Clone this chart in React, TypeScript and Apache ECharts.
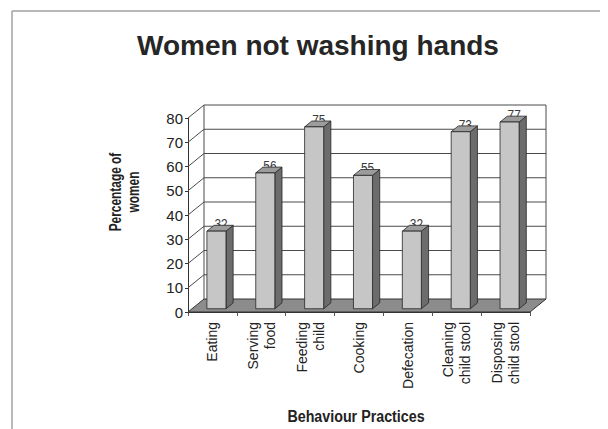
import React, { useEffect, useRef } from "react";
import * as echarts from "echarts";

const categories = [
  "Eating",
  "Serving\nfood",
  "Feeding\nchild",
  "Cooking",
  "Defecation",
  "Cleaning\nchild stool",
  "Disposing\nchild stool",
];
const values = [32, 56, 75, 55, 32, 73, 77];
const yMin = 0;
const yMax = 80;
const yStep = 10;
const titleText = "Women not washing hands";
const yName = "Percentage of\nwomen";
const xName = "Behaviour Practices";

const FONT = "'Liberation Sans', Arial, Helvetica, sans-serif";
const DX = 16;
const DY = -13;

export default function App() {
  const ref = useRef<HTMLDivElement>(null);
  useEffect(() => {
    if (!ref.current) return;
    const chart = echarts.init(ref.current, null, { renderer: "svg" });
    const tickVals: number[] = [];
    for (let v = yMin; v <= yMax; v += yStep) tickVals.push(v);

    const option: any = {
      animation: false,
      backgroundColor: "#ffffff",
      title: {
        text: titleText,
        left: 132,
        top: 26,
        textStyle: { fontFamily: FONT, fontSize: 28, fontWeight: "bold", color: "#262626" },
      },
      graphic: [
        { type: "line", shape: { x1: 12, y1: 11, x2: 600, y2: 11 }, style: { stroke: "#a0a0a0", lineWidth: 1.5 } },
        { type: "line", shape: { x1: 12, y1: 11, x2: 12, y2: 429 }, style: { stroke: "#a0a0a0", lineWidth: 1.5 } },
        {
          type: "text",
          x: 124,
          y: 192,
          rotation: Math.PI / 2,
          scaleX: 0.7,
          style: {
            text: yName,
            fontFamily: FONT,
            fontSize: 17,
            fontWeight: "bold",
            fill: "#222",
            align: "center",
            verticalAlign: "middle",
            lineHeight: 18,
          },
        },
        {
          type: "text",
          x: 356,
          y: 416,
          scaleX: 0.84,
          style: {
            text: xName,
            fontFamily: FONT,
            fontSize: 17,
            fontWeight: "bold",
            fill: "#222",
            align: "center",
            verticalAlign: "middle",
          },
        },
      ],
      grid: { left: 188, right: 78, top: 118, bottom: 117 },
      xAxis: {
        type: "category",
        data: categories,
        axisLine: { show: true, lineStyle: { color: "#333", width: 1 } },
        axisTick: { show: true, length: 4, lineStyle: { color: "#555" } },
        axisLabel: {
          rotate: 90,
          margin: 10,
          fontFamily: FONT,
          fontSize: 14,
          lineHeight: 17,
          color: "#222",
        },
        splitLine: { show: false },
      },
      yAxis: {
        type: "value",
        min: yMin,
        max: yMax,
        interval: yStep,
        axisLine: { show: true, lineStyle: { color: "#333", width: 1 } },
        axisTick: { show: true, length: 3, lineStyle: { color: "#333" } },
        axisLabel: { margin: 5, fontFamily: FONT, fontSize: 15, color: "#222" },
        splitLine: { show: false },
      },
      series: [
        {
          type: "custom",
          z: 1,
          data: [[0, 0]],
          renderItem: (params: any, api: any) => {
            const cs = params.coordSys;
            const x0 = cs.x;
            const x1 = cs.x + cs.width;
            const yf = (v: number) => api.coord([0, v])[1];
            const children: any[] = [];
            const y0 = yf(yMin);
            children.push({
              type: "polygon",
              shape: { points: [[x0, y0], [x1, y0], [x1 + DX, y0 + DY], [x0 + DX, y0 + DY]] },
              style: { fill: "#8c8c8c", stroke: "#333", lineWidth: 1 },
            });
            tickVals.forEach((v) => {
              const y = yf(v);
              if (v > yMin) {
                children.push({
                  type: "line",
                  shape: { x1: x0 + DX, y1: y + DY, x2: x1 + DX, y2: y + DY },
                  style: { stroke: "#4a4a4a", lineWidth: 1 },
                });
                children.push({
                  type: "line",
                  shape: { x1: x0, y1: y, x2: x0 + DX, y2: y + DY },
                  style: { stroke: "#4a4a4a", lineWidth: 1 },
                });
              }
            });
            const yt = yf(yMax);
            children.push({
              type: "line",
              shape: { x1: x0 + DX, y1: yt + DY, x2: x0 + DX, y2: y0 + DY },
              style: { stroke: "#4a4a4a", lineWidth: 1 },
            });
            children.push({
              type: "line",
              shape: { x1: x1 + DX, y1: yt + DY, x2: x1 + DX, y2: y0 + DY },
              style: { stroke: "#4a4a4a", lineWidth: 1 },
            });
            return { type: "group", children };
          },
        },
        {
          type: "custom",
          z: 2,
          data: values.map((v, i) => [i, v]),
          renderItem: (params: any, api: any) => {
            const i = api.value(0);
            const v = api.value(1);
            const top = api.coord([i, v]);
            const base = api.coord([i, yMin]);
            const band = api.size([1, 0])[0];
            const w = band * 0.39;
            const ox = DX * 0.25;
            const oy = DY * 0.25;
            const bdx = DX * 0.45;
            const bdy = DY * 0.45;
            const xl = top[0] - w / 2 + ox;
            const xr = xl + w;
            const yt = top[1] + oy;
            const yb = base[1] + oy;
            const stroke = "#262626";
            return {
              type: "group",
              children: [
                {
                  type: "text",
                  x: (xl + xr) / 2 + bdx / 2 + 1,
                  y: yt,
                  scaleX: 0.85,
                  style: {
                    text: String(v),
                    x: 0,
                    y: 0,
                    align: "center",
                    verticalAlign: "bottom",
                    fontFamily: FONT,
                    fontSize: 14,
                    fill: "#3a3a3a",
                  },
                },
                {
                  type: "polygon",
                  shape: { points: [[xr, yt], [xr + bdx, yt + bdy], [xr + bdx, yb + bdy], [xr, yb]] },
                  style: { fill: "#6c6c6c", stroke, lineWidth: 0.8 },
                },
                {
                  type: "polygon",
                  shape: { points: [[xl, yt], [xr, yt], [xr + bdx, yt + bdy], [xl + bdx, yt + bdy]] },
                  style: { fill: "#9c9c9c", stroke, lineWidth: 0.8 },
                },
                {
                  type: "rect",
                  shape: { x: xl, y: yt, width: w, height: yb - yt },
                  style: { fill: "#c6c6c6", stroke, lineWidth: 0.8 },
                },
              ],
            };
          },
        },
      ],
    };
    chart.setOption(option);
    return () => chart.dispose();
  }, []);
  return (
    <div
      ref={ref}
      style={{ position: "fixed", left: 0, top: 0, width: 608, height: 429 }}
    />
  );
}
